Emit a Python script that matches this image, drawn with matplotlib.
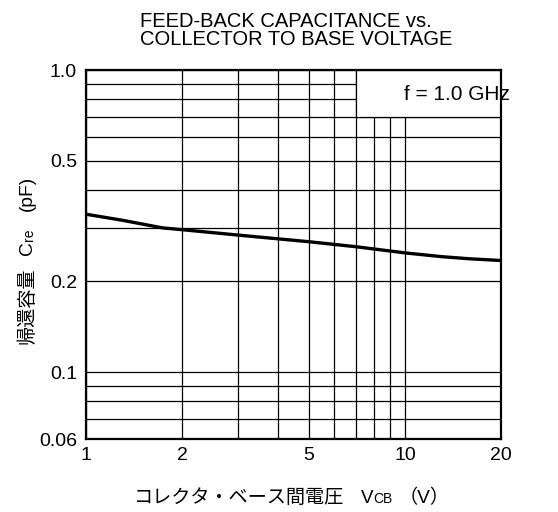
import matplotlib
matplotlib.use('Agg')
import matplotlib.pyplot as plt
from matplotlib.patches import Rectangle
from matplotlib.ticker import FixedLocator, NullFormatter

plt.rcParams['font.family'] = ['Liberation Sans', 'Noto Sans CJK JP', 'DejaVu Sans']

# curve
VCB = [1, 1.3, 1.74, 2, 3, 5, 7, 10, 13, 16, 20]
CRE = [0.333, 0.318, 0.300, 0.296, 0.284, 0.270, 0.260, 0.248, 0.241, 0.237, 0.234]

X_MAJOR = [1, 2, 5, 10, 20]
X_LABELS = ['1', '2', '5', '10', '20']
X_MINOR = [3, 4, 6, 7, 8, 9]
Y_MAJOR = [0.06, 0.1, 0.2, 0.5, 1.0]
Y_LABELS = ['0.06', '0.1', '0.2', '0.5', '1.0']
Y_MINOR = [0.07, 0.08, 0.09, 0.3, 0.4, 0.6, 0.7, 0.8, 0.9]

W, H = 558, 512
fig = plt.figure(figsize=(W / 100, H / 100), dpi=100)
ax = fig.add_axes([86 / W, 1 - 439 / H, 415 / W, 369 / H])
ax.set_xscale('log'); ax.set_yscale('log')
ax.set_xlim(1, 20); ax.set_ylim(0.06, 1.0)

ax.xaxis.set_major_locator(FixedLocator(X_MAJOR))
ax.xaxis.set_minor_locator(FixedLocator(X_MINOR))
ax.yaxis.set_major_locator(FixedLocator(Y_MAJOR))
ax.yaxis.set_minor_locator(FixedLocator(Y_MINOR))
ax.set_xticklabels(X_LABELS); ax.set_yticklabels(Y_LABELS)
ax.xaxis.set_minor_formatter(NullFormatter())
ax.yaxis.set_minor_formatter(NullFormatter())
ax.tick_params(which='both', length=0, labelsize=14, colors='black')
ax.tick_params(axis='x', pad=6); ax.tick_params(axis='y', pad=6.5)
ax.set_axisbelow(True)
ax.grid(which='both', color='black', lw=0.9)
for s in ax.spines.values():
    s.set_linewidth(1.6)

# white box for the frequency note
ax.add_patch(Rectangle((7, 0.7), 13, 0.3, facecolor='white', edgecolor='black',
                       lw=0.9, zorder=1.5))
ax.text(14.6, 0.83, 'f = 1.0 GHz', ha='center', va='center', fontsize=15, zorder=3)

ax.plot(VCB, CRE, color='black', lw=2.4, zorder=2)

fig.text(140 / W, 1 - 30.5 / H, 'FEED-BACK CAPACITANCE vs.\nCOLLECTOR TO BASE VOLTAGE',
         ha='left', va='center', fontsize=14.5, linespacing=0.98, multialignment='left')


def px(x, y):
    return x / W, 1 - y / H


# x label, pieces placed by pixel position (subscript CB in smaller type)
XB = 503
fig.text(*px(134, XB), 'コレクタ・ベース間電圧', fontsize=13.8, ha='left', va='baseline')
fig.text(*px(361, XB), 'V', fontsize=13.5, ha='left', va='baseline')
fig.text(*px(373, XB), 'CB', fontsize=10, ha='left', va='baseline')
fig.text(*px(424, XB), '（V）', fontsize=13.8, ha='center', va='baseline')

# y label, rotated pieces: x is the baseline, y the centre along the text
YB = 32
ykw = dict(rotation=90, rotation_mode='anchor', ha='center', va='baseline')
fig.text(*px(YB, 306), '帰還容量', fontsize=13.8, **ykw)
fig.text(*px(YB, 248), 'C', fontsize=13.8, **ykw)
fig.text(*px(YB + 1.5, 235), 're', fontsize=10, **ykw)
fig.text(*px(YB, 193), '(pF)', fontsize=13.8, **ykw)

fig.savefig('out.png', dpi=100)
